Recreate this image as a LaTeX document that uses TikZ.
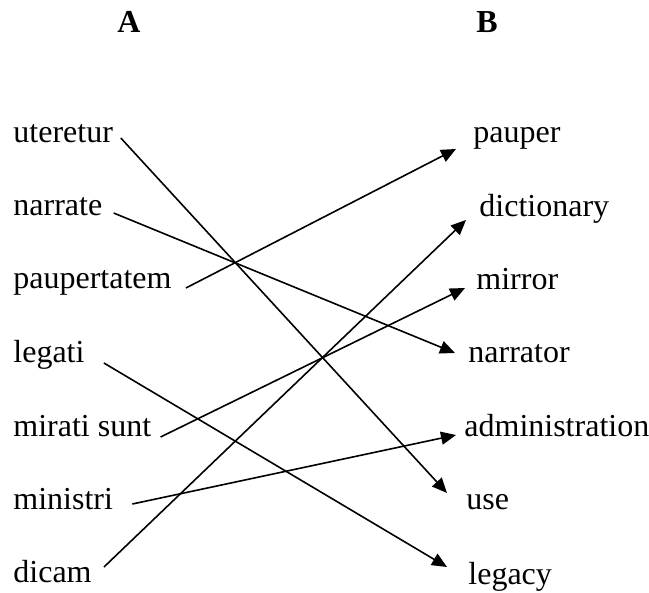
\documentclass[tikz,border=0pt]{standalone}
\usepackage{fontspec}
\setmainfont{Liberation Serif}
\usetikzlibrary{arrows.meta}

\begin{document}
\begin{tikzpicture}[
  x=0.5pt, y=-0.5pt,
  word/.style={anchor=base west, inner sep=0pt, font=\fontsize{16}{19}\selectfont},
  head/.style={anchor=base, inner sep=0pt, font=\fontsize{16}{19}\selectfont\bfseries},
  arr/.style={-{Triangle[length=7.5pt, width=6.5pt]}, line width=0.8pt}
]
\useasboundingbox (0,0) rectangle (649,593);
\node[head] (colA) at (129,33) {A};
\node[head] (colB) at (487,33) {B};

% left column
\node[word] (ute) at (13,143) {uteretur};
\node[word] (nar) at (13,216) {narrate};
\node[word] (pau) at (13,289) {paupertatem};
\node[word] (leg) at (13,363) {legati};
\node[word] (mir) at (13,437) {mirati sunt};
\node[word] (min) at (13,510) {ministri};
\node[word] (dic) at (13,583) {dicam};

% right column
\node[word] (pauper) at (473,143) {pauper};
\node[word] (dict) at (479,217) {dictionary};
\node[word] (mirror) at (476,290) {mirror};
\node[word] (narrator) at (468,363) {narrator};
\node[word] (admin) at (464,437) {administration};
\node[word] (use) at (466,510) {use};
\node[word] (legacy) at (468,585) {legacy};

% matches
\draw[arr] ([shift={(7.5,-5)}]ute.base east) -- ([shift={(-19,-17)}]use.base west);
\draw[arr] ([shift={(11,-3)}]nar.base east) -- ([shift={(-13,-10)}]narrator.base west);
\draw[arr] ([shift={(14,-1)}]pau.base east) -- ([shift={(-17,6)}]pauper.base west);
\draw[arr] ([shift={(19,0)}]leg.base east) -- ([shift={(-21,-18)}]legacy.base west);
\draw[arr] ([shift={(9,0)}]mir.base east) -- ([shift={(-11,-2)}]mirror.base west);
\draw[arr] ([shift={(19,-6)}]min.base east) -- ([shift={(-8,-2)}]admin.base west);
\draw[arr] ([shift={(12,-16)}]dic.base east) -- ([shift={(-13,3)}]dict.base west);
\end{tikzpicture}
\end{document}
